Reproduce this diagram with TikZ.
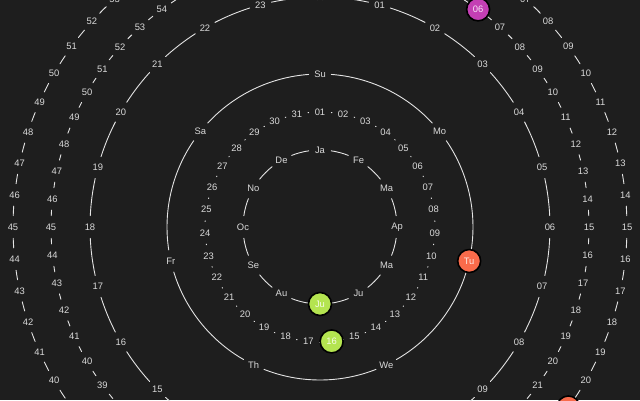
\documentclass[tikz,border=0pt]{standalone}
\usepackage{fontspec}
\setmainfont{Liberation Sans}
\definecolor{bg}{HTML}{1E1E1E}
\definecolor{ln}{HTML}{E4E4E4}
\definecolor{txt}{HTML}{DADADA}
\definecolor{mkorange}{HTML}{F96B4B}
\definecolor{mkmagenta}{HTML}{C43FB4}
\definecolor{mklime}{HTML}{B4E450}
\tikzset{
  ring/.style={draw=ln, line width=0.9pt, line cap=round},
  lbl/.style={text=txt, font=\fontsize{9.4}{11}\selectfont, inner sep=0pt},
  marker/.style={circle, draw=black, line width=1.6pt, minimum size=23pt, inner sep=0pt,
    text=white, text opacity=0.85, font=\fontsize{9.4}{11}\selectfont}
}
\newcommand\polring[5]{% #1 N, #2 radius, #3 name prefix, #4 skipped index, #5 labels
  \pgfmathsetmacro\hg{11.3/#2*180/pi}
  \pgfmathsetmacro\st{360/#1}
  \foreach \l [count=\i from 0] in {#5}{
    \pgfmathsetmacro\a{90-\i*\st}
    \pgfmathsetmacro\b{\a-\st}
    \draw[ring] ({\a-\hg}:#2) arc[start angle=\a-\hg, end angle=\b+\hg, radius=#2];
    \ifnum\i=#4\relax\else
      \node[lbl] (#3\i) at (\a:#2) {\l};
    \fi
  }}
\begin{document}
\begin{tikzpicture}[x=1pt,y=1pt]
\fill[bg] (-320,-173) rectangle (320,227);
\useasboundingbox (-320,-173) rectangle (320,227);
\clip (-320,-173) rectangle (320,227);
% month ring
\polring{12}{77}{mo}{6}{Ja,Fe,Ma,Ap,Ma,Ju,Ju,Au,Se,Oc,No,De}
% day ring
\polring{31}{115}{dy}{15}{01,02,03,04,05,06,07,08,09,10,11,12,13,14,15,16,17,18,19,20,21,22,23,24,25,26,27,28,29,30,31}
% weekday ring
\polring{7}{153}{wd}{2}{Su,Mo,Tu,We,Th,Fr,Sa}
% hour ring
\polring{24}{230}{hr}{-1}{00,01,02,03,04,05,06,07,08,09,10,11,12,13,14,15,16,17,18,19,20,21,22,23}
% minute ring
\polring{60}{269}{mi}{6}{00,01,02,03,04,05,06,07,08,09,10,11,12,13,14,15,16,17,18,19,20,21,22,23,24,25,26,27,28,29,30,31,32,33,34,35,36,37,38,39,40,41,42,43,44,45,46,47,48,49,50,51,52,53,54,55,56,57,58,59}
% second ring
\polring{60}{307}{se}{21}{00,01,02,03,04,05,06,07,08,09,10,11,12,13,14,15,16,17,18,19,20,21,22,23,24,25,26,27,28,29,30,31,32,33,34,35,36,37,38,39,40,41,42,43,44,45,46,47,48,49,50,51,52,53,54,55,56,57,58,59}
% markers
\node[marker, fill=mklime] (mmo) at ({90-6*30}:77) {Ju};
\node[marker, fill=mklime] (mdy) at ({90-15*360/31}:115) {16};
\node[marker, fill=mkorange] (mwd) at ({90-2*360/7}:153) {Tu};
\node[marker, fill=mkmagenta] (mmi) at ({90-6*6}:269) {06};
\node[marker, fill=mkorange] (mse) at ({90-21*6}:307) {21};
\end{tikzpicture}
\end{document}
